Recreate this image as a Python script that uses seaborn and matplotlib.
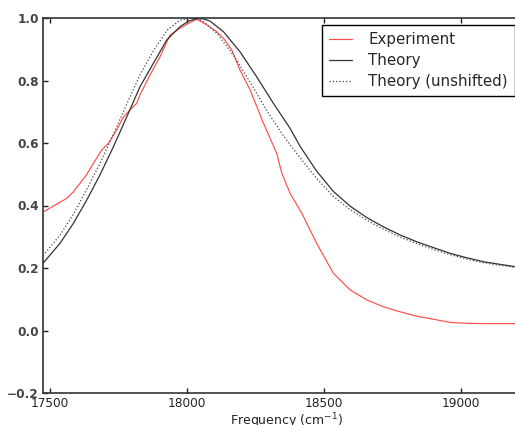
import matplotlib
matplotlib.use('Agg')
import matplotlib.pyplot as plt
import seaborn as sns
import pandas as pd

# experiment
exp_freq = [17476, 17561, 17585, 17628, 17658, 17689, 17713, 17743, 17768, 17792,
            17816, 17828, 17865, 17901, 17938, 17974, 18005, 18035, 18072, 18108,
            18133, 18163, 18193, 18230, 18279, 18327, 18346, 18376, 18419, 18473,
            18534, 18595, 18656, 18716, 18777, 18838, 18899, 18960, 19021, 19082, 19197]
exp_val = [0.380, 0.423, 0.444, 0.492, 0.535, 0.578, 0.599, 0.642, 0.684, 0.706,
           0.727, 0.754, 0.818, 0.876, 0.946, 0.967, 0.983, 0.996, 0.978, 0.956,
           0.935, 0.898, 0.834, 0.770, 0.663, 0.567, 0.503, 0.439, 0.375, 0.279,
           0.183, 0.130, 0.098, 0.076, 0.060, 0.046, 0.036, 0.026, 0.023, 0.022, 0.022]

# theory
th_freq = [17474, 17536, 17585, 17634, 17682, 17731, 17780, 17828, 17877, 17926,
           17974, 18005, 18035, 18060, 18084, 18133, 18193, 18254, 18315, 18376,
           18412, 18473, 18534, 18595, 18655, 18716, 18777, 18838, 18900, 18960,
           19020, 19082, 19140, 19200]
th_val = [0.215, 0.279, 0.343, 0.418, 0.498, 0.588, 0.684, 0.780, 0.855, 0.930,
          0.972, 0.990, 0.998, 0.997, 0.990, 0.956, 0.892, 0.812, 0.727, 0.647,
          0.590, 0.510, 0.445, 0.398, 0.362, 0.332, 0.306, 0.284, 0.265, 0.247,
          0.233, 0.220, 0.212, 0.204]

# theory, unshifted
un_freq = [17474, 17536, 17585, 17634, 17682, 17731, 17780, 17828, 17877, 17926,
           17974, 18010, 18040, 18060, 18110, 18170, 18230, 18290, 18350, 18410,
           18470, 18530, 18590, 18650, 18710, 18770, 18830, 18890, 18950, 19010,
           19070, 19130, 19200]
un_val = [0.240, 0.305, 0.372, 0.452, 0.535, 0.628, 0.725, 0.818, 0.895, 0.960,
          0.993, 1.000, 0.996, 0.988, 0.950, 0.880, 0.795, 0.705, 0.625, 0.555,
          0.490, 0.432, 0.390, 0.356, 0.327, 0.302, 0.281, 0.262, 0.245, 0.231,
          0.219, 0.210, 0.202]

sns.set_theme(style='ticks')
plt.rcParams['font.family'] = ['DejaVu Sans']

fig = plt.figure(figsize=(5.15, 4.25), dpi=100)
ax = fig.add_axes([43 / 515, 32 / 425, 486.5 / 515, 375 / 425])

sns.lineplot(x=exp_freq, y=exp_val, ax=ax, color='#ff4d4d', lw=0.85, label='Experiment')
sns.lineplot(x=th_freq, y=th_val, ax=ax, color='#333333', lw=0.9, label='Theory')
sns.lineplot(x=un_freq, y=un_val, ax=ax, color='#444444', lw=0.9, ls=':', label='Theory (unshifted)')

ax.set_xlim(17474, 19250)
ax.set_ylim(-0.2, 1.0)
ax.set_xticks([17500, 18000, 18500, 19000])
ax.set_yticks([-0.2, 0.0, 0.2, 0.4, 0.6, 0.8, 1.0])
ax.tick_params(direction='in', length=3.5, width=1, top=True, right=True,
               labelsize=8.7, colors='#222222', pad=3)
for lab in ax.get_yticklabels():
    lab.set_fontweight('bold')
    lab.set_color('#444444')
for s in ax.spines.values():
    s.set_color('#333333')
    s.set_linewidth(1.2)
ax.set_xlabel('Frequency (cm$^{-1}$)', fontsize=9, color='#222222', labelpad=1)

leg = ax.legend(loc='upper left', bbox_to_anchor=(322 / 515, 1 - 25 / 425),
                bbox_transform=fig.transFigure, fontsize=10.8, frameon=True,
                fancybox=False, framealpha=1, edgecolor='black', borderaxespad=0,
                handlelength=1.55, handletextpad=1.1, labelspacing=0.4, borderpad=0.45)
leg.get_frame().set_linewidth(1.0)

fig.savefig('out.png', dpi=100)
